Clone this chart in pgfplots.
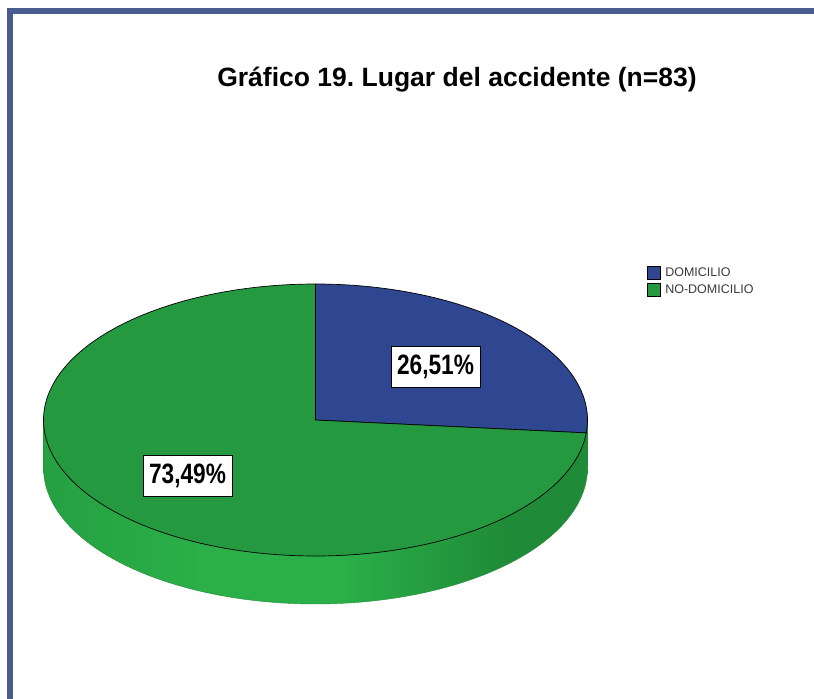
\documentclass[border=0pt]{standalone}
\usepackage{pgfplots}
\pgfplotsset{compat=1.18}
\usepackage{pgfplotstable}
\usepackage{fontspec}
\setmainfont{Liberation Sans}
\newfontfamily\narrowfont[FakeStretch=0.81]{Liberation Sans}
\frenchspacing

\definecolor{domblue}{HTML}{2F4690}
\definecolor{nogreen}{HTML}{25993F}
\definecolor{sidelight}{HTML}{2BB049}
\definecolor{sidemid}{HTML}{25A041}
\definecolor{sidedark}{HTML}{1F8A37}
\definecolor{framec}{HTML}{4A5B8E}
\definecolor{legtext}{HTML}{3A3A3A}

\pgfdeclarehorizontalshading{pieside}{100bp}{color(0bp)=(sidemid); color(25bp)=(sidemid); color(40bp)=(sidelight); color(52bp)=(sidelight); color(68bp)=(sidedark); color(75bp)=(sidedark); color(100bp)=(sidedark)}

\pgfplotstableread{
label value
DOMICILIO 26.51
NO-DOMICILIO 73.49
}\piedata

\pgfplotstablegetelem{0}{value}\of\piedata \let\va\pgfplotsretval
\pgfplotstablegetelem{1}{value}\of\piedata \let\vb\pgfplotsretval
\pgfmathsetmacro\angA{90-3.6*\va}
\pgfmathsetmacro\angB{\angA-3.6*\vb}
\def\cx{315.5}
\def\cy{420}
\def\rx{272}
\def\ry{136}
\def\dd{48}
\pgfmathsetmacro\cxl{\cx-\rx}
\pgfmathsetmacro\cxr{\cx+\rx}

\begin{document}
\begin{tikzpicture}
\begin{axis}[
  scale only axis, width=814bp, height=699bp,
  xmin=0, xmax=814, ymin=0, ymax=699, y dir=reverse,
  hide axis, clip=false,
  legend style={at={(axis cs:646,265)}, anchor=north west, draw=none, fill=none,
    font=\fontsize{12.5bp}{14bp}\selectfont\color{legtext}, row sep=3bp,
    inner sep=1bp, nodes={inner sep=1.5bp},
    /tikz/every odd column/.append style={column sep=3bp}},
  legend cell align=left,
  legend image code/.code={\draw[#1, draw=black, line width=0.6bp] (0bp,-6.5bp) rectangle (13bp,6.5bp);},
]
% side of the pie (front, visible part)
\addplot[forget plot, draw=sidedark, line width=0.4bp, shade, shading=pieside, domain=180:360, samples=150, variable=\t]
  ({\cx+\rx*cos(\t)},{\cy+\dd-\ry*sin(\t)}) -- (axis cs:\cxr,\cy) -- (axis cs:\cxl,\cy) -- cycle;
% top slices
\addplot[fill=domblue, draw=black, line width=0.7bp, domain=\angA:90, samples=80, variable=\t]
  ({\cx+\rx*cos(\t)},{\cy-\ry*sin(\t)}) -- (axis cs:\cx,\cy) -- cycle;
\addplot[fill=nogreen, draw=black, line width=0.7bp, domain=\angB:\angA, samples=200, variable=\t]
  ({\cx+\rx*cos(\t)},{\cy-\ry*sin(\t)}) -- (axis cs:\cx,\cy) -- cycle;
\legend{DOMICILIO, NO-DOMICILIO}

% labels
\node[draw=black, fill=white, line width=1bp, minimum width=89bp, minimum height=41bp, inner sep=0pt,
  font=\narrowfont\bfseries\fontsize{28bp}{28bp}\selectfont] at (axis cs:435.5,366.5) {26,51\%};
\node[draw=black, fill=white, line width=1bp, minimum width=89bp, minimum height=41bp, inner sep=0pt,
  font=\narrowfont\bfseries\fontsize{28bp}{28bp}\selectfont] at (axis cs:187.5,476) {73,49\%};

% title
\node[anchor=base, font=\bfseries\fontsize{26.5bp}{30bp}\selectfont] at (axis cs:457,87) {Gráfico 19. Lugar del accidente (n=83)};

% frame
\draw[framec, line width=6bp] (axis cs:10,699) -- (axis cs:10,11.5) -- (axis cs:814,11.5);
\end{axis}
\pgfresetboundingbox
\useasboundingbox (current axis.south west) rectangle (current axis.north east);
\end{tikzpicture}
\end{document}
